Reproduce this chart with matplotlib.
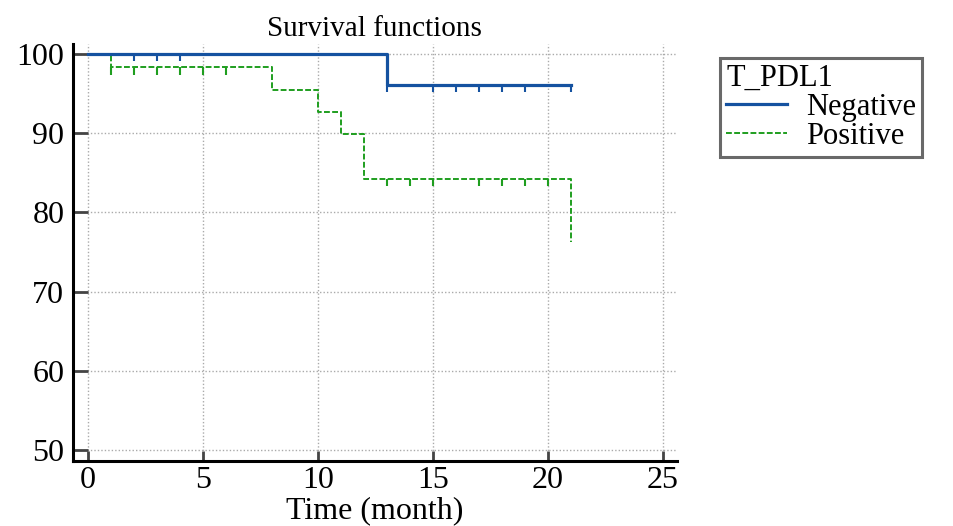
import numpy as np
import matplotlib
matplotlib.use("Agg")
import matplotlib.pyplot as plt

# Kaplan-Meier steps
neg_times = [0, 13, 21]
neg_surv = [100, 96.1, 96.1]
pos_times = [0, 1, 8, 10, 11, 12, 21]
pos_surv = [100, 98.3, 95.4, 92.7, 89.9, 84.2, 76.3]

# censored observations
neg_censor = [2, 3, 4, 13, 15, 16, 17, 18, 19, 21]
pos_censor = [1, 2, 3, 4, 5, 6, 13, 14, 15, 17, 18, 19, 20]

xticks = [0, 5, 10, 15, 20, 25]
yticks = [50, 60, 70, 80, 90, 100]

blue = "#1552a0"
green = "#1f9e1f"

plt.rcParams['font.family'] = ['Liberation Serif', 'DejaVu Serif']

fig = plt.figure(figsize=(9.54, 5.26), dpi=100)
ax = fig.add_axes([0.0762, 0.1241, 0.6331, 0.7922])


def level_at(times, surv, t):
    idx = np.searchsorted(times, t, side='right') - 1
    return surv[idx]


ax.step(neg_times, neg_surv, where='post', color=blue, lw=2.3, label="Negative", zorder=4)
ax.step(pos_times, pos_surv, where='post', color=green, lw=1.4,
        dashes=(3, 1.2), label="Positive", zorder=3)

nl = np.array([level_at(neg_times, neg_surv, t) for t in neg_censor])
pl = np.array([level_at(pos_times, pos_surv, t) for t in pos_censor])
ax.vlines(neg_censor, nl - 0.9, nl, color=blue, lw=1.5, zorder=4)
ax.vlines(pos_censor, pl - 0.9, pl, color=green, lw=1.5, zorder=3)

ax.set_xlim(-0.65, 25.6)
ax.set_ylim(48.65, 101.26)
ax.set_xticks(xticks)
ax.set_yticks(yticks)
ax.grid(True, color="#aaaaaa", linestyle=(0, (1, 1.5)), lw=1.0)

for s in ['top', 'right']:
    ax.spines[s].set_visible(False)
for s in ['left', 'bottom']:
    ax.spines[s].set_linewidth(2.2)
    ax.spines[s].set_color('black')

ax.tick_params(axis='y', direction='in', length=11, width=2, color='#444444',
               labelsize=23, pad=6)
ax.tick_params(axis='x', direction='in', length=7.5, width=2, color='#444444',
               labelsize=23, pad=4)

ax.set_title("Survival functions", fontsize=21, pad=6)
ax.set_xlabel("Time (month)", fontsize=23, labelpad=1)

leg = fig.legend(loc='upper left', bbox_to_anchor=(0.755, 0.89), title="T_PDL1",
                 fontsize=22, title_fontsize=22, alignment='left', frameon=True,
                 fancybox=False, handlelength=2.0, borderpad=0.2,
                 labelspacing=0.0, handletextpad=0.6, borderaxespad=0)
leg.get_frame().set_edgecolor('#444444')
leg.get_frame().set_linewidth(2.2)

fig.savefig("out.png", dpi=100)
